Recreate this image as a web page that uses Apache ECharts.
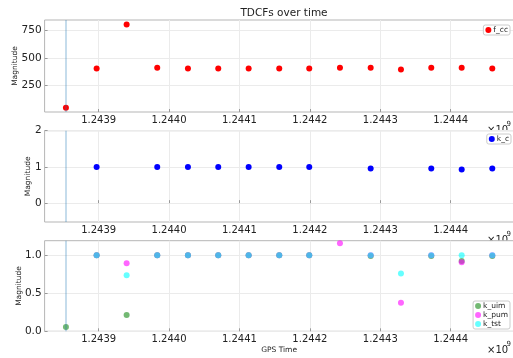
<!DOCTYPE html>
<html>
<head>
<meta charset="utf-8">
<script src="https://cdn.jsdelivr.net/npm/echarts@6/dist/echarts.min.js"></script>
<style>html,body{margin:0;padding:0;background:#fff;}#c{width:513px;height:358px;}</style>
</head>
<body>
<div id="c"></div>
<script>
// ---- data ----
const gpsTimes = [1243853550, 1243897160, 1243939770, 1243983240, 1244026850, 1244069890, 1244113070, 1244156530, 1244199150, 1244242760, 1244286360, 1244329400, 1244372440, 1244415620, 1244459090];
const fcc  = [42, 402, 805, 408, 402, 402, 402, 402, 402, 408, 408, 392, 408, 408, 402];
const kc   = [null, 1.0, null, 1.0, 1.0, 1.0, 1.0, 1.0, 1.0, null, 0.96, null, 0.96, 0.93, 0.96];
const kuim = [0.057, 1.0, 0.214, 1.0, 1.0, 1.0, 1.0, 1.0, 1.0, null, 0.99, null, 0.99, 0.925, 0.99];
const kpum = [null, 1.0, 0.895, 1.0, 1.0, 1.0, 1.0, 1.0, 1.0, 1.158, 1.0, 0.376, 1.0, 0.908, 1.0];
const ktst = [null, 1.0, 0.737, 1.0, 1.0, 1.0, 1.0, 1.0, 1.0, null, 1.0, 0.758, 1.0, 1.0, 1.0];
const xTicks = [1243900000, 1244000000, 1244100000, 1244200000, 1244300000, 1244400000];
const yTicks1 = [250, 500, 750];
const yTicks2 = [0, 1, 2];
const yTicks3 = [0, 0.5, 1.0];
const vLine = 1243853550;
const title = 'TDCFs over time';

// ---- chart ----
const FONT = 'DejaVu Sans';
const xMin = 1243823273, xMax = 1244489367;
const pair = arr => gpsTimes.map((t, i) => arr[i] == null ? null : [t, arr[i]]).filter(d => d);

const grids = [
  {left: 44.6, width: 469, top: 20, height: 92},
  {left: 44.6, width: 469, top: 130.7, height: 91.3},
  {left: 44.6, width: 469, top: 240.7, height: 90.6}
].map(g => Object.assign(g, {show: true, backgroundColor: '#fff', borderColor: '#b5b5b5', borderWidth: 1,
  containLabel: false, outerBoundsMode: 'none'}));

function xAxis(i, extra) {
  return Object.assign({
    type: 'value', gridIndex: i, min: xMin, max: xMax,
    axisLine: {show: false},
    axisTick: {show: true, inside: true, length: 3, customValues: xTicks, lineStyle: {color: '#999'}},
    axisLabel: {customValues: xTicks, formatter: v => (v / 1e9).toFixed(4), fontFamily: FONT, fontSize: 10, color: '#222', margin: 3},
    splitLine: {show: true, lineStyle: {color: '#ebebeb', width: 1}}
  }, extra || {});
}
function yAxis(i, min, max, ticks, fmt, gap) {
  return {
    type: 'value', gridIndex: i, min: min, max: max,
    name: 'Magnitude', nameLocation: 'middle', nameRotate: 90, nameGap: gap, nameMoveOverlap: false,
    nameTextStyle: {fontFamily: FONT, fontSize: 7.5, color: '#222'},
    axisLine: {show: false},
    axisTick: {show: true, inside: true, length: 3, customValues: ticks, lineStyle: {color: '#999'}},
    axisLabel: {customValues: ticks, formatter: fmt, fontFamily: FONT, fontSize: 10.5, color: '#222', margin: 3},
    splitLine: {show: true, lineStyle: {color: '#ebebeb', width: 1}}
  };
}
const markLine = {
  symbol: 'none', silent: true, animation: false, label: {show: false},
  lineStyle: {color: 'rgba(31,119,180,0.35)', width: 1.5, type: 'solid'},
  data: [{xAxis: vLine}]
};
function scatter(name, data, i, color, opacity, ml) {
  const s = {
    type: 'scatter', name: name, xAxisIndex: i, yAxisIndex: i, data: pair(data),
    symbol: 'circle', symbolSize: 6,
    itemStyle: {color: color, opacity: opacity}
  };
  if (ml) s.markLine = markLine;
  return s;
}
const legendBase = {
  orient: 'vertical', itemWidth: 6, itemHeight: 6, itemGap: 1, icon: 'circle',
  padding: [1, 2, 1, 2], borderColor: '#cccccc', borderWidth: 1, borderRadius: 2,
  backgroundColor: '#fff',
  textStyle: {fontFamily: FONT, fontSize: 7.5, color: '#222', padding: [0, 0, 0, -3]}
};
const x10 = (top) => ([
  {type: 'text', z: -10, left: 487, top: top + 1, style: {text: '×10', font: '10px "DejaVu Sans"', fill: '#222'}},
  {type: 'text', z: -10, left: 506.5, top: top - 3, style: {text: '9', font: '7px "DejaVu Sans"', fill: '#222'}}
]);

const option = {
  animation: false,
  backgroundColor: '#fff',
  title: {text: title, left: 279, top: 3, textAlign: 'center',
    textStyle: {fontFamily: FONT, fontSize: 10.5, fontWeight: 'normal', color: '#222'}},
  grid: grids,
  xAxis: [xAxis(0), xAxis(1), xAxis(2, {name: 'GPS Time', nameLocation: 'middle', nameGap: 15, nameMoveOverlap: false,
    nameTextStyle: {fontFamily: FONT, fontSize: 7.5, color: '#222'}})],
  yAxis: [
    yAxis(0, 4, 846, yTicks1, v => String(v), 25.5),
    yAxis(1, -0.52, 2, yTicks2, v => String(v), 12.5),
    yAxis(2, 0, 1.19, yTicks3, v => v.toFixed(1), 22)
  ],
  legend: [
    Object.assign({}, legendBase, {data: ['f_cc'], right: 3, top: 25}),
    Object.assign({}, legendBase, {data: ['k_c'], right: 2, top: 134}),
    Object.assign({}, legendBase, {data: ['k_uim', 'k_pum', 'k_tst'], right: 3, top: 301})
  ],
  graphic: [].concat(x10(124), x10(234), x10(344)),
  series: [
    scatter('f_cc', fcc, 0, '#ff0000', 1, true),
    scatter('k_c', kc, 1, '#0000ff', 1, true),
    scatter('k_uim', kuim, 2, '#008000', 0.55, true),
    scatter('k_pum', kpum, 2, '#ff00ff', 0.6, false),
    scatter('k_tst', ktst, 2, '#00ffff', 0.6, false)
  ]
};
const chart = echarts.init(document.getElementById('c'), null, {renderer: 'canvas'});
chart.setOption(option);
</script>
</body>
</html>
